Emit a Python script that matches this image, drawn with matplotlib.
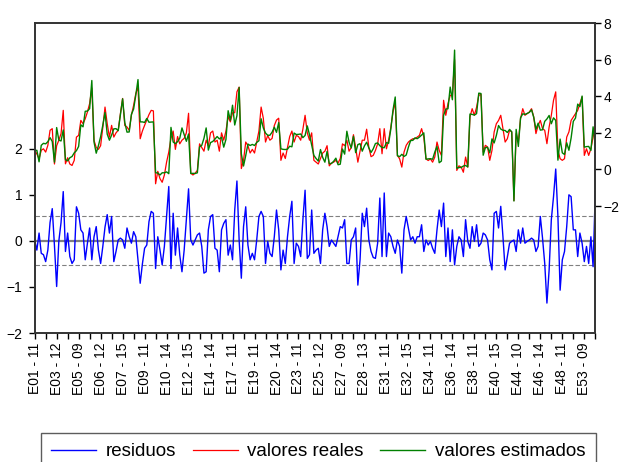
import numpy as np
import matplotlib
matplotlib.use("Agg")
import matplotlib.pyplot as plt

plt.rcParams['font.family'] = ['Liberation Sans', 'DejaVu Sans']

# --- observation labels (one every 10 observations) ---
tick_labels = [
    "E01 - 11", "E03 - 12", "E05 - 09", "E06 - 12", "E07 - 15", "E09 - 11",
    "E10 - 14", "E12 - 15", "E14 - 14", "E17 - 11", "E19 - 11", "E20 - 14",
    "E23 - 11", "E25 - 12", "E27 - 09", "E28 - 13", "E31 - 11", "E32 - 15",
    "E34 - 11", "E36 - 14", "E38 - 11", "E40 - 15", "E44 - 10", "E46 - 14",
    "E48 - 11", "E53 - 09",
]

# --- actual values (right axis) ---
actual = [
    1.04, 0.85, 0.59, 1.05, 1.13, 0.95, 1.32, 2.14, 2.23, 0.30,
    1.30, 1.60, 1.96, 3.23, 0.31, 0.64, 0.30, 0.22, 0.50, 1.77,
    1.86, 2.68, 2.50, 2.77, 3.14, 3.60, 4.45, 1.59, 1.20, 1.10,
    1.30, 2.30, 3.41, 2.50, 1.77, 2.41, 1.77, 2.00, 2.14, 3.05,
    3.88, 2.40, 2.32, 2.14, 2.96, 3.50, 4.15, 4.50, 1.68, 2.10,
    2.41, 2.70, 3.00, 3.23, 3.20, -0.78, -0.10, -0.50, -0.70, -0.30,
    0.40, 0.95, 1.70, 2.10, 1.10, 1.80, 1.40, 1.60, 1.70, 2.00,
    3.07, -0.20, -0.30, -0.20, -0.05, 1.40, 1.20, 1.00, 1.60, 1.30,
    2.00, 2.10, 1.50, 1.60, 1.00, 2.00, 1.60, 2.10, 2.90, 2.60,
    3.10, 3.10, 4.24, 4.50, 0.05, 0.50, 1.50, 1.30, 0.90, 1.10,
    0.90, 1.50, 2.10, 3.41, 2.80, 1.50, 1.86, 1.60, 1.70, 2.40,
    2.70, 2.80, 0.50, 0.90, 0.60, 1.20, 1.80, 2.10, 1.50, 1.86,
    1.80, 1.60, 2.20, 2.96, 2.00, 1.60, 2.00, 0.50, 0.40, 0.30,
    0.60, 0.90, 1.00, 1.30, 0.20, 0.35, 0.40, 0.50, 0.35, 0.60,
    1.40, 1.30, 1.60, 1.00, 1.20, 1.90, 1.20, 0.40, 1.00, 1.60,
    1.60, 2.20, 1.20, 0.70, 0.77, 1.04, 1.40, 2.23, 0.86, 2.23,
    1.13, 1.60, 2.30, 3.14, 3.69, 0.77, 0.58, 0.13, 0.95, 1.32,
    1.50, 1.60, 1.68, 1.68, 1.77, 1.86, 2.23, 1.77, 0.58, 0.49,
    0.58, 0.40, 0.68, 1.50, 1.04, 0.77, 3.78, 2.96, 3.60, 4.05,
    4.05, 6.00, -0.05, 0.20, 0.13, -0.15, 0.68, 0.13, 2.87, 3.32,
    2.96, 3.40, 4.05, 4.10, 0.95, 1.32, 1.23, 0.50, 1.04, 2.05,
    2.50, 2.68, 2.96, 2.23, 1.50, 1.68, 2.14, 2.05, -1.70, 1.96,
    1.50, 2.77, 3.32, 2.96, 3.05, 3.14, 3.32, 2.87, 1.96, 2.41,
    2.68, 2.23, 2.14, 1.41, 2.32, 2.96, 3.78, 4.24, 1.04, 0.59,
    0.50, 0.59, 1.77, 2.05, 2.68, 2.87, 3.05, 3.23, 3.60, 3.96,
    0.77, 1.13, 0.77, 1.13, 1.77, 2.41,
]

# --- residuals (left axis) ---
resid = [
    0.02, -0.20, 0.17, -0.27, -0.30, -0.45, -0.20, 0.40, 0.70, -0.10,
    -0.99, 0.00, 0.40, 1.07, -0.23, 0.17, -0.34, -0.49, -0.41, 0.74,
    0.60, 0.24, 0.17, -0.41, -0.05, 0.28, -0.41, 0.09, 0.31, -0.20,
    -0.49, -0.12, 0.30, 0.57, 0.17, 0.53, -0.45, -0.23, 0.02, 0.06,
    0.02, -0.16, 0.28, 0.09, -0.05, 0.20, 0.09, -0.41, -0.92, -0.50,
    -0.16, -0.09, 0.42, 0.64, 0.60, -0.60, 0.09, -0.20, -0.52, -0.12,
    0.53, 1.18, -0.60, 0.60, -0.31, 0.28, -0.31, -0.67, -0.20, 0.46,
    1.13, 0.02, -0.09, 0.02, 0.13, 0.17, -0.12, -0.70, -0.67, 0.24,
    0.53, 0.57, -0.16, -0.20, -0.67, 0.24, 0.38, 0.46, -0.31, -0.09,
    -0.41, 0.67, 1.30, 0.02, -0.81, 0.31, 0.74, -0.09, -0.41, -0.27,
    -0.41, 0.02, 0.53, 0.64, 0.53, -0.49, -0.01, -0.27, -0.34, 0.09,
    0.67, 0.24, -0.63, -0.20, -0.49, 0.09, 0.53, 0.86, -0.49, -0.05,
    -0.12, -0.34, 0.46, 1.10, -0.38, -0.30, 0.67, -0.27, -0.20, -0.16,
    -0.49, 0.24, 0.60, 0.31, -0.12, 0.02, -0.05, -0.12, 0.09, 0.31,
    0.28, 0.46, -0.49, -0.49, 0.02, 0.09, 0.28, -0.96, -0.41, 0.60,
    0.31, 0.71, 0.02, -0.23, -0.36, -0.38, -0.05, 0.93, -0.34, 1.04,
    -0.34, 0.17, 0.09, -0.12, -0.27, 0.02, -0.12, -0.70, 0.24, 0.53,
    0.28, 0.02, 0.09, -0.05, 0.09, 0.09, 0.35, -0.23, 0.02, -0.09,
    -0.01, -0.16, -0.27, 0.24, 0.67, 0.31, 0.82, -0.34, 0.28, -0.45,
    0.24, -0.52, -0.12, 0.09, 0.02, -0.34, 0.46, -0.01, -0.16, 0.31,
    -0.01, 0.35, -0.12, -0.05, 0.17, 0.13, 0.02, -0.41, -0.63, 0.60,
    0.64, 0.28, 0.75, 0.09, -0.63, -0.34, -0.05, -0.01, 0.02, -0.23,
    0.24, -0.05, 0.28, -0.05, -0.01, 0.02, 0.06, 0.02, -0.23, -0.12,
    0.53, 0.06, -0.49, -1.35, -0.63, 0.46, 0.96, 1.56, 0.53, -1.07,
    -0.41, -0.23, 0.31, 1.00, 0.96, 0.24, 0.24, -0.34, 0.17, -0.05,
    -0.45, -0.12, -0.49, 0.09, -0.56, 1.07,
]

se_regression = 0.53

actual = np.array(actual)
resid = np.array(resid)
fitted = actual - resid
obs = np.arange(len(actual))

fig = plt.figure(figsize=(6.19, 4.62), dpi=100)
ax = fig.add_axes([0.056, 0.2792, 0.9057, 0.671])
ax2 = ax.twinx()

# residual panel with +/- 1 S.E. bands
ax.axhline(0, color="#808080", lw=1.6, zorder=1)
ax.axhline(se_regression, color="#808080", lw=0.8, ls=(0, (4, 2)), zorder=1)
ax.axhline(-se_regression, color="#808080", lw=0.8, ls=(0, (4, 2)), zorder=1)
l1, = ax.plot(obs, resid, color="blue", lw=1.0, zorder=2)

l2, = ax2.plot(obs, actual, color="red", lw=0.9)
l3, = ax2.plot(obs, fitted, color="green", lw=1.0)

ax.set_xlim(0, len(actual) - 1)
ax.set_ylim(-2, 4.73)
ax.set_yticks([-2, -1, 0, 1, 2])
ax2.set_ylim(-8.93, 8.0)
ax2.set_yticks([-2, 0, 2, 4, 6, 8])

xt = np.arange(0, len(actual), 5)
ax.set_xticks(xt)
ax.set_xticklabels([tick_labels[i // 10] if i % 10 == 0 else "" for i in xt],
                   rotation=90, fontsize=10)

for a in (ax, ax2):
    for s in a.spines.values():
        s.set_color("#333333")
        s.set_linewidth(1.2)
ax.tick_params(axis="x", direction="out", length=4, width=1, pad=3)
ax.tick_params(axis="y", direction="out", length=4, width=1, pad=5, labelsize=10)
ax2.tick_params(axis="y", direction="out", length=4, width=1, pad=2, labelsize=10)

leg = fig.legend([l1, l2, l3], ["residuos", "valores reales", "valores estimados"],
                 loc="upper center", bbox_to_anchor=(0.514, 1 - 433 / 462),
                 borderaxespad=0, ncol=3, fontsize=13.5, frameon=True,
                 fancybox=False, handlelength=2.4, columnspacing=0.9,
                 handletextpad=0.5, borderpad=0.55)
leg.get_frame().set_edgecolor("#333333")
leg.get_frame().set_linewidth(1.0)

fig.savefig("out.png", dpi=100)
